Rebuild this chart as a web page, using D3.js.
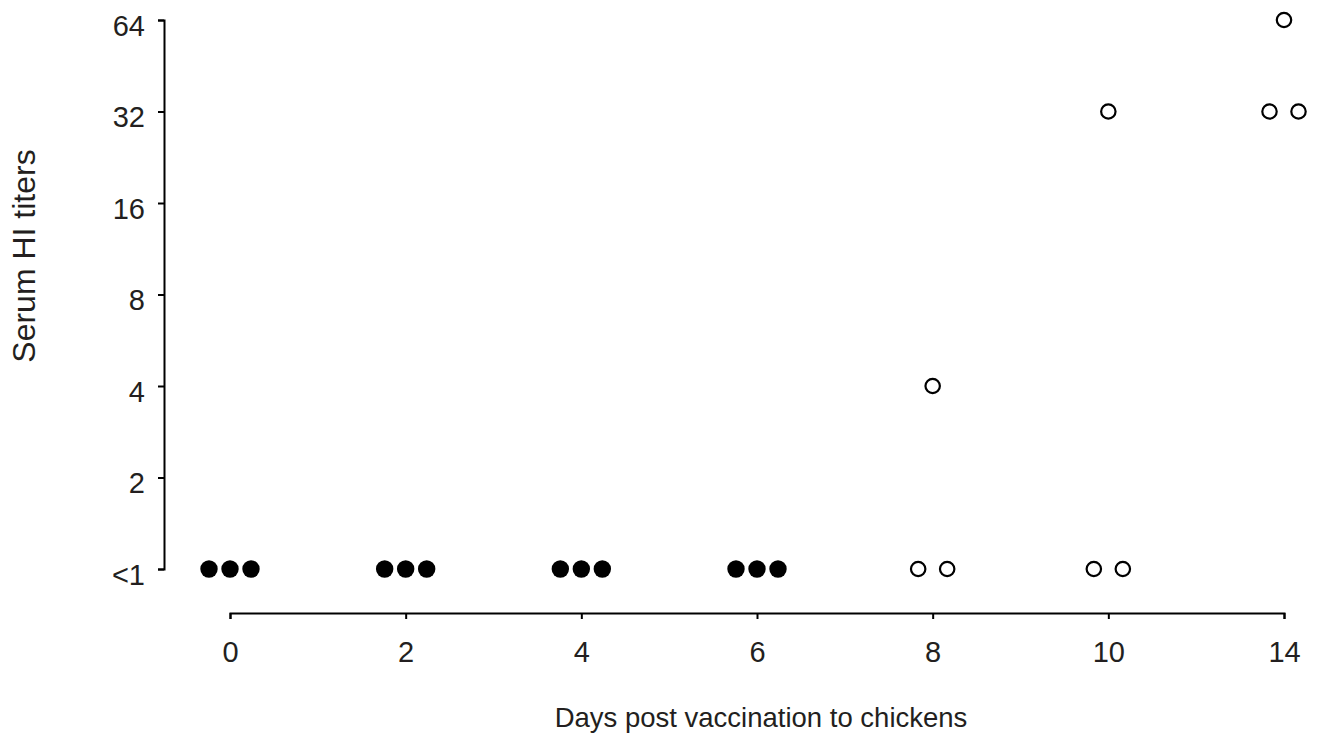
<!DOCTYPE html>
<html>
<head>
<meta charset="utf-8">
<script src="https://cdn.jsdelivr.net/npm/d3@7"></script>
<style>
  body { margin: 0; background: #fff; }
  text { font-family: "Liberation Sans", Arial, sans-serif; fill: #231f20; }
</style>
</head>
<body>
<div id="chart-container"></div>
<script>
const width = 1324;
const height = 740;

// sampling days (equally spaced categories on the x axis)
const days = ["0", "2", "4", "6", "8", "10", "14"];
// HI titer categories, bottom to top
const titerLabels = ["<1", "2", "4", "8", "16", "32", "64"];
// titers of the three chickens sampled each day
const titers = [
    ["<1", "<1", "<1"],
    ["<1", "<1", "<1"],
    ["<1", "<1", "<1"],
    ["<1", "<1", "<1"],
    ["<1", "4", "<1"],
    ["<1", "32", "<1"],
    ["32", "64", "32"]
];
// filled markers before day 8, open markers after
const filled = [true, true, true, true, false, false, false];

const x = d3.scalePoint(days, [230, 1284]);
const y = d3.scalePoint(titerLabels, [569, 20]);

// spread points that share the same day and titer
const points = [];
days.forEach((day, i) => {
    const groups = d3.group(titers[i], t => t);
    for (const [t, vals] of groups) {
        const gap = vals.length === 3 ? 21 : 29;
        vals.forEach((v, j) => {
            points.push({
                day, titer: t, filled: filled[i],
                dx: (j - (vals.length - 1) / 2) * gap
            });
        });
    }
});

const svg = d3.select("#chart-container")
    .append("svg")
    .attr("width", width)
    .attr("height", height)
    .attr("viewBox", [0, 0, width, height]);

const yAxis = svg.append("g")
    .attr("transform", "translate(164,0)")
    .call(d3.axisLeft(y).tickSizeOuter(0).tickSize(6).tickPadding(13));

const xAxis = svg.append("g")
    .attr("transform", "translate(0,613)")
    .call(d3.axisBottom(x).tickSizeOuter(0).tickSize(6).tickPadding(22));

svg.selectAll(".domain, .tick line")
    .attr("stroke", "#000")
    .attr("stroke-width", 2);
svg.selectAll(".tick text")
    .attr("font-size", 29)
    .attr("font-family", "Liberation Sans, Arial, sans-serif")
    .attr("fill", "#231f20");
yAxis.selectAll(".tick text").attr("dy", "0.53em");

svg.append("g")
    .selectAll("circle")
    .data(points)
    .join("circle")
    .attr("cx", d => x(d.day) + d.dx)
    .attr("cy", d => y(d.titer))
    .attr("r", d => d.filled ? 8.7 : 7.2)
    .attr("fill", d => d.filled ? "#000" : "#fff")
    .attr("stroke", "#000")
    .attr("stroke-width", d => d.filled ? 0 : 2.2);

svg.append("text")
    .attr("x", 761)
    .attr("y", 727)
    .attr("text-anchor", "middle")
    .attr("font-size", 27.5)
    .text("Days post vaccination to chickens");

svg.append("text")
    .attr("transform", "translate(35,256) rotate(-90)")
    .attr("text-anchor", "middle")
    .attr("font-size", 32)
    .text("Serum HI titers");
</script>
</body>
</html>
